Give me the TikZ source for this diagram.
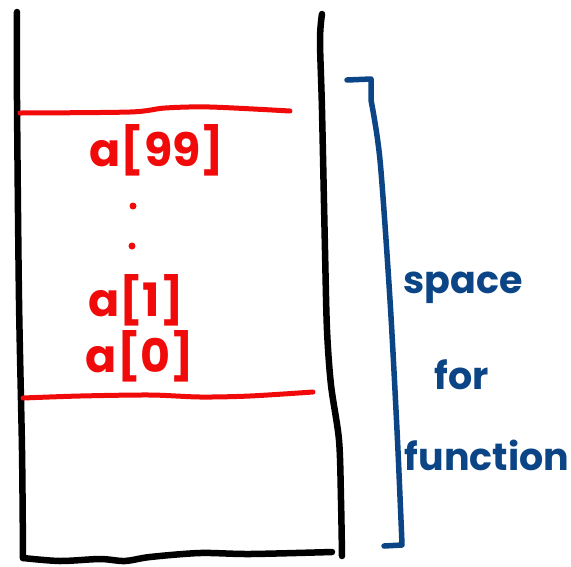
\documentclass[tikz,border=0pt]{standalone}
\usepackage{fontspec}
\setmainfont{Poppins}
\definecolor{penred}{HTML}{F00A0A}
\definecolor{penblue}{HTML}{0B4586}
\tikzset{
  blackpen/.style={draw=black,line width=6.5pt,line cap=round,line join=round},
  redpen/.style={draw=penred,line width=5pt,line cap=round,line join=round},
  bluepen/.style={draw=penblue,line width=5.5pt,line cap=round,line join=round},
  redlabel/.style={text=penred,font=\bfseries\fontsize{46}{46}\selectfont,inner sep=0pt},
  bluelabel/.style={text=penblue,font=\bfseries\fontsize{38}{38}\selectfont,inner sep=0pt},
  reddot/.style={fill=penred,circle,inner sep=0pt,minimum size=7pt}
}
\begin{document}
\begin{tikzpicture}[x=1pt,y=-1pt]
\useasboundingbox (0,0) rectangle (571,566);
% black stack frame
\draw[blackpen] plot[smooth] coordinates {(17,12) (17,100) (19,300) (22,450) (23,558)};
\draw[blackpen] plot[smooth] coordinates {(23,558) (60,561) (100,559) (125,561) (150,557) (200,553) (250,554) (332,552)};
\draw[blackpen] plot[smooth] coordinates {(322,14) (320,40) (322,110) (325,250) (327,330) (331,385) (339,440) (341,500) (342,556)};
% red boundaries
\draw[redpen] plot[smooth] coordinates {(20,113) (130,112) (165,108) (210,107) (290,111)};
\draw[redpen] plot[smooth] coordinates {(23,398) (80,396) (150,395) (200,397) (250,396) (313,392)};
% red labels
\node[redlabel] (a99) at (157,150) {a[99]};
\node[reddot] (d1) at (133,206) {};
\node[reddot] (d2) at (132,246) {};
\node[redlabel] (a1) at (136,300) {a[1]};
\node[redlabel] (a0) at (140,356) {a[0]};
% blue bracket
\draw[bluepen] (347,80) -- (371,79) -- (371,100)
  plot[smooth] coordinates {(371,100) (380,160) (390,300) (397,430) (401,520) (402,545)}
  -- (384,546);
% blue labels
\node[bluelabel] (space) at (463,288) {space};
\node[bluelabel] (for) at (462,375) {for};
\node[bluelabel] (func) at (487,455) {function};
\end{tikzpicture}
\end{document}
